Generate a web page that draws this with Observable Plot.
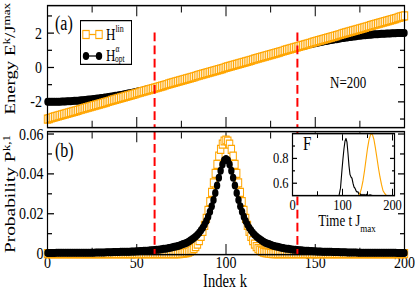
<!DOCTYPE html>
<html><head><meta charset="utf-8">
<script src="https://cdn.jsdelivr.net/npm/d3@7"></script>
<script src="https://cdn.jsdelivr.net/npm/@observablehq/plot@0.6"></script>
<style>
html,body{margin:0;padding:0;background:#fff;}
#wrap{position:relative;width:415px;height:291px;overflow:hidden;background:#fff;}
#chart{position:absolute;left:0;top:0;width:415px;height:232.8px;transform:scale(1,1.25);transform-origin:0 0;font-family:"Liberation Serif","Times New Roman",serif;color:#000;}
#chart > svg{position:absolute;left:0;overflow:visible;}
</style></head><body><div id="wrap"><div id="chart"></div></div>
<script>
// ---- data ----
const energyLin = [-3.00,-2.97,-2.94,-2.91,-2.88,-2.85,-2.82,-2.79,-2.76,-2.73,
-2.70,-2.67,-2.64,-2.61,-2.58,-2.55,-2.52,-2.49,-2.46,-2.43,
-2.40,-2.37,-2.34,-2.31,-2.28,-2.25,-2.22,-2.19,-2.16,-2.13,
-2.10,-2.07,-2.04,-2.01,-1.98,-1.95,-1.92,-1.89,-1.86,-1.83,
-1.80,-1.77,-1.74,-1.71,-1.68,-1.65,-1.62,-1.59,-1.56,-1.53,
-1.50,-1.47,-1.44,-1.41,-1.38,-1.35,-1.32,-1.29,-1.26,-1.23,
-1.20,-1.17,-1.14,-1.11,-1.08,-1.05,-1.02,-0.99,-0.96,-0.93,
-0.90,-0.87,-0.84,-0.81,-0.78,-0.75,-0.72,-0.69,-0.66,-0.63,
-0.60,-0.57,-0.54,-0.51,-0.48,-0.45,-0.42,-0.39,-0.36,-0.33,
-0.30,-0.27,-0.24,-0.21,-0.18,-0.15,-0.12,-0.09,-0.06,-0.03,
0.00,
0.03,0.06,0.09,0.12,0.15,0.18,0.21,0.24,0.27,0.30,
0.33,0.36,0.39,0.42,0.45,0.48,0.51,0.54,0.57,0.60,
0.63,0.66,0.69,0.72,0.75,0.78,0.81,0.84,0.87,0.90,
0.93,0.96,0.99,1.02,1.05,1.08,1.11,1.14,1.17,1.20,
1.23,1.26,1.29,1.32,1.35,1.38,1.41,1.44,1.47,1.50,
1.53,1.56,1.59,1.62,1.65,1.68,1.71,1.74,1.77,1.80,
1.83,1.86,1.89,1.92,1.95,1.98,2.01,2.04,2.07,2.10,
2.13,2.16,2.19,2.22,2.25,2.28,2.31,2.34,2.37,2.40,
2.43,2.46,2.49,2.52,2.55,2.58,2.61,2.64,2.67,2.70,
2.73,2.76,2.79,2.82,2.85,2.88,2.91,2.94,2.97,3.00];

const energyOpt = [-2.00,-2.00,-2.00,-2.00,-2.00,-1.99,-1.99,-1.99,-1.98,-1.98,
-1.98,-1.97,-1.96,-1.96,-1.95,-1.94,-1.94,-1.93,-1.92,-1.91,
-1.90,-1.89,-1.88,-1.87,-1.86,-1.85,-1.84,-1.82,-1.81,-1.80,
-1.78,-1.77,-1.75,-1.74,-1.72,-1.71,-1.69,-1.67,-1.65,-1.64,
-1.62,-1.60,-1.58,-1.56,-1.54,-1.52,-1.50,-1.48,-1.46,-1.44,
-1.41,-1.39,-1.37,-1.35,-1.32,-1.30,-1.27,-1.25,-1.23,-1.20,
-1.18,-1.15,-1.12,-1.10,-1.07,-1.04,-1.02,-0.99,-0.96,-0.94,
-0.91,-0.88,-0.85,-0.82,-0.79,-0.77,-0.74,-0.71,-0.68,-0.65,
-0.62,-0.59,-0.56,-0.53,-0.50,-0.47,-0.44,-0.41,-0.37,-0.34,
-0.31,-0.28,-0.25,-0.22,-0.19,-0.16,-0.13,-0.09,-0.06,-0.03,
0.00,
0.03,0.06,0.09,0.13,0.16,0.19,0.22,0.25,0.28,0.31,
0.34,0.37,0.41,0.44,0.47,0.50,0.53,0.56,0.59,0.62,
0.65,0.68,0.71,0.74,0.77,0.79,0.82,0.85,0.88,0.91,
0.94,0.96,0.99,1.02,1.04,1.07,1.10,1.12,1.15,1.18,
1.20,1.23,1.25,1.27,1.30,1.32,1.35,1.37,1.39,1.41,
1.44,1.46,1.48,1.50,1.52,1.54,1.56,1.58,1.60,1.62,
1.64,1.65,1.67,1.69,1.71,1.72,1.74,1.75,1.77,1.78,
1.80,1.81,1.82,1.84,1.85,1.86,1.87,1.88,1.89,1.90,
1.91,1.92,1.93,1.94,1.94,1.95,1.96,1.96,1.97,1.98,
1.98,1.98,1.99,1.99,1.99,2.00,2.00,2.00,2.00,2.00];

const probLin = [0,0,0,0,0,0,0,0,0,0,
0,0,0,0,0,0,0,0,0,0,
0,0,0,0,0,0,0,0,0,0,
0,0,0,0,0,0,0,0,0,0,
0,0,0,0,0,0,0,0,0,0,
0,0,0,0,0,0,0,0,0,0,
0,0,0,0,0,0,0,0,0,0,
0,0,0,0,0,0.0001,0.0002,0.0004,0.0005,0.0008,
0.0012,0.0018,0.0025,0.0035,0.0048,0.0065,0.0086,0.0112,0.0142,0.0177,
0.0217,0.0261,0.0307,0.0355,0.0403,0.0448,0.0489,0.0523,0.0549,0.0565,
0.0570,
0.0565,0.0549,0.0523,0.0489,0.0448,0.0403,0.0355,0.0307,0.0261,0.0217,
0.0177,0.0142,0.0112,0.0086,0.0065,0.0048,0.0035,0.0025,0.0018,0.0012,
0.0008,0.0005,0.0004,0.0002,0.0001,0,0,0,0,0,
0,0,0,0,0,0,0,0,0,0,
0,0,0,0,0,0,0,0,0,0,
0,0,0,0,0,0,0,0,0,0,
0,0,0,0,0,0,0,0,0,0,
0,0,0,0,0,0,0,0,0,0,
0,0,0,0,0,0,0,0,0,0,
0,0,0,0,0,0,0,0,0,0];

const probOpt = [0.0003,0.0003,0.0003,0.0003,0.0003,0.0004,0.0004,0.0004,0.0004,0.0004,
0.0004,0.0004,0.0004,0.0004,0.0004,0.0004,0.0004,0.0004,0.0004,0.0005,
0.0005,0.0005,0.0005,0.0005,0.0005,0.0005,0.0005,0.0006,0.0006,0.0006,
0.0006,0.0006,0.0006,0.0007,0.0007,0.0007,0.0007,0.0008,0.0008,0.0008,
0.0008,0.0009,0.0009,0.0009,0.0009,0.0010,0.0010,0.0011,0.0011,0.0011,
0.0012,0.0012,0.0013,0.0013,0.0014,0.0015,0.0015,0.0016,0.0017,0.0017,
0.0018,0.0019,0.0020,0.0021,0.0022,0.0024,0.0025,0.0026,0.0028,0.0030,
0.0032,0.0034,0.0036,0.0038,0.0041,0.0044,0.0048,0.0051,0.0055,0.0060,
0.0066,0.0072,0.0078,0.0086,0.0095,0.0105,0.0117,0.0130,0.0146,0.0164,
0.0185,0.0210,0.0238,0.0269,0.0304,0.0342,0.0380,0.0416,0.0447,0.0468,
0.0475,
0.0468,0.0447,0.0416,0.0380,0.0342,0.0304,0.0269,0.0238,0.0210,0.0185,
0.0164,0.0146,0.0130,0.0117,0.0105,0.0095,0.0086,0.0078,0.0072,0.0066,
0.0060,0.0055,0.0051,0.0048,0.0044,0.0041,0.0038,0.0036,0.0034,0.0032,
0.0030,0.0028,0.0026,0.0025,0.0024,0.0022,0.0021,0.0020,0.0019,0.0018,
0.0017,0.0017,0.0016,0.0015,0.0015,0.0014,0.0013,0.0013,0.0012,0.0012,
0.0011,0.0011,0.0011,0.0010,0.0010,0.0009,0.0009,0.0009,0.0009,0.0008,
0.0008,0.0008,0.0008,0.0007,0.0007,0.0007,0.0007,0.0006,0.0006,0.0006,
0.0006,0.0006,0.0006,0.0005,0.0005,0.0005,0.0005,0.0005,0.0005,0.0005,
0.0005,0.0004,0.0004,0.0004,0.0004,0.0004,0.0004,0.0004,0.0004,0.0004,
0.0004,0.0004,0.0004,0.0004,0.0004,0.0003,0.0003,0.0003,0.0003,0.0003];

// inset: fidelity F vs time t J_max
const timeOpt = [86,90,93,96,99,101,103,105,107,109,111,113,115,117,119,121,123,125,127,129,131,133,135,137,139,141,143,145,148,151,155,160,165,170];
const fidOpt  = [0.40,0.45,0.50,0.56,0.71,0.80,0.88,0.94,0.96,0.93,0.84,0.74,0.67,0.65,0.64,0.60,0.57,0.56,0.54,0.53,0.53,0.51,0.52,0.50,0.51,0.50,0.51,0.50,0.51,0.50,0.505,0.50,0.49,0.48];
const timeLin = [128,132,135,138,141,144,147,150,153,156,158,160,163,166,169,172,175,178,181,184,188,192,196];
const fidLin  = [0.46,0.49,0.52,0.56,0.62,0.70,0.79,0.88,0.95,0.99,1.00,0.99,0.95,0.88,0.80,0.72,0.65,0.59,0.54,0.52,0.50,0.49,0.48];

// dashed markers (index k)
const markK = [60, 140];

// ticks
const kMajor = [0,50,100,150,200], kMinor = [25,75,125,175];
const eMajor = [-2,0,2], eMinor = [-3,-1,1,3];
const pMajor = [0,0.02,0.04,0.06], pMinor = [0.01,0.03,0.05];
const tMajor = [0,100,200], tMinor = [50,150];
const fMajor = [0.6,0.8], fMinor = [0.7,0.9];

for (const [n,a] of Object.entries({energyLin,energyOpt,probLin,probOpt})) if (a.length !== 201) throw new Error(n+" length "+a.length);

// ---- build ----
const kIdx = d3.range(0, 201);
const rows = kIdx.map((k,i)=>({k, eLin: energyLin[i], eOpt: energyOpt[i], pLin: probLin[i], pOpt: probOpt[i]}));
const insetOpt = timeOpt.map((t,i)=>({t, F: fidOpt[i]}));
const insetLin = timeLin.map((t,i)=>({t, F: fidLin[i]}));

const font = '"Liberation Serif","Times New Roman",serif';
const base = {background:"transparent", overflow:"visible", fontFamily:font, color:"#000"};
const ORANGE = "#ffa500";

function boxTicks(xMaj, xMin, yMaj, yMin, [xa, xb, ya, yb]) {
  const m = [];
  for (const a of ["top","bottom"]) {
    m.push(Plot.axisX({anchor:a, ticks:xMaj, tickSize:-xa, fill:"none", label:null}));
    m.push(Plot.axisX({anchor:a, ticks:xMin, tickSize:-xb, fill:"none", label:null}));
  }
  for (const a of ["left","right"]) {
    m.push(Plot.axisY({anchor:a, ticks:yMaj, tickSize:-ya, fill:"none", label:null}));
    m.push(Plot.axisY({anchor:a, ticks:yMin, tickSize:-yb, fill:"none", label:null}));
  }
  return m;
}

const chart = document.getElementById("chart");

const svgA = Plot.plot({
  width:415, height:104, marginLeft:47, marginRight:11, marginTop:4, marginBottom:2.4,
  style:{...base, fontSize:"14px"},
  x:{domain:[0,200]}, y:{domain:[-3.5,3.6]},
  marks:[
    ...boxTicks(kMajor,kMinor,eMajor,eMinor,[8,5,7,5]),
    Plot.axisY({anchor:"left", ticks:eMajor, tickSize:0, tickPadding:5.5, tickFormat:String, label:null}),
    Plot.line(rows,{x:"k", y:"eOpt", stroke:"#000", strokeWidth:1}),
    Plot.dot(rows,{x:"k", y:"eOpt", r:3.2, fill:"#000", stroke:"none"}),
    Plot.line(rows,{x:"k", y:"eLin", stroke:ORANGE, strokeWidth:1}),
    Plot.dot(rows,{x:"k", y:"eLin", symbol:"square", r:3.6, fill:"#fff", stroke:ORANGE, strokeWidth:1}),
    Plot.ruleX(markK,{x:d=>d, y1:2, y2:-3.5, stroke:"#ff0000", strokeWidth:2, strokeDasharray:"7,3.5"}),
    Plot.frame({stroke:"#000", strokeWidth:1.2})
  ]
});
svgA.style.top = "0px";
chart.appendChild(svgA);

const svgB = Plot.plot({
  width:415, height:132.8, marginLeft:47, marginRight:11, marginTop:4.8, marginBottom:29.6,
  style:{...base, fontSize:"14px"},
  x:{domain:[0,200]}, y:{domain:[-0.0005,0.0612]},
  marks:[
    ...boxTicks(kMajor,kMinor,pMajor,pMinor,[8,5,7,5]),
    Plot.axisY({anchor:"left", ticks:pMajor, tickSize:0, tickPadding:4, tickFormat:String, label:null}),
    Plot.axisX({anchor:"bottom", ticks:kMajor, tickSize:0, tickPadding:1, tickFormat:String, label:null}),
    Plot.line(rows,{x:"k", y:"pLin", stroke:ORANGE, strokeWidth:1}),
    Plot.dot(rows,{x:"k", y:"pLin", symbol:"square", r:3.6, fill:"#fff", stroke:ORANGE, strokeWidth:1}),
    Plot.line(rows,{x:"k", y:"pOpt", stroke:"#000", strokeWidth:1}),
    Plot.dot(rows,{x:"k", y:"pOpt", r:3.2, fill:"#000", stroke:"none"}),
    Plot.ruleX(markK,{x:d=>d, stroke:"#ff0000", strokeWidth:2, strokeDasharray:"7,3.5"}),
    Plot.frame({stroke:"#000", strokeWidth:1.2})
  ]
});
svgB.style.top = "100px";
chart.appendChild(svgB);

const svgI = Plot.plot({
  width:145, height:85, marginLeft:30, marginRight:13, marginTop:6.4, marginBottom:29,
  style:{...base, fontSize:"12.5px"},
  x:{domain:[0,204]}, y:{domain:[0.5,1.0]},
  marks:[
    Plot.frame({fill:"#fff", stroke:"none"}),
    ...boxTicks(tMajor,tMinor,fMajor,fMinor,[5,3,5,3]),
    Plot.axisY({anchor:"left", ticks:fMajor, tickSize:0, tickPadding:4, tickFormat:String, label:null}),
    Plot.axisX({anchor:"bottom", ticks:tMajor, tickSize:0, tickPadding:2.3, tickFormat:String, label:null}),
    Plot.line(insetOpt,{x:"t", y:"F", stroke:"#000", strokeWidth:1.1, clip:true}),
    Plot.line(insetLin,{x:"t", y:"F", stroke:ORANGE, strokeWidth:1.1, clip:true}),
    Plot.frame({stroke:"#000", strokeWidth:1.2})
  ]
});
svgI.style.top = "100px";
svgI.style.left = "262px";
chart.appendChild(svgI);

// legend
const leg = document.createElement("div");
leg.style.cssText = "position:absolute;left:80px;top:16px;width:52px;height:35.6px;box-sizing:border-box;border:1px solid #000;background:#fff;";
leg.innerHTML = `<svg width="50" height="33.6" style="position:absolute;left:0;top:0;overflow:visible" font-family="Liberation Serif, Times New Roman, serif">
<line x1="2" x2="21" y1="10.6" y2="10.6" stroke="${ORANGE}"/>
<rect x="1.8" y="7.4" width="6.4" height="6.4" fill="#fff" stroke="${ORANGE}"/>
<rect x="14.8" y="7.4" width="6.4" height="6.4" fill="#fff" stroke="${ORANGE}"/>
<text x="25" y="15" font-size="13">H<tspan font-size="8" dy="-6.5">lin</tspan></text>
<line x1="2" x2="21" y1="27.8" y2="27.8" stroke="#000"/>
<circle cx="5" cy="27.8" r="3.2" fill="#000"/>
<circle cx="18" cy="27.8" r="3.2" fill="#000"/>
<text x="25" y="32" font-size="13">H<tspan font-size="7.5" dy="-7.5">α</tspan><tspan font-size="7.5" dx="-4.3" dy="8.3">opt</tspan></text>
</svg>`;
chart.appendChild(leg);

// annotations and axis titles
const ov = document.createElementNS("http://www.w3.org/2000/svg","svg");
ov.setAttribute("width","415"); ov.setAttribute("height","232.8");
ov.style.cssText = "position:absolute;left:0;top:0;overflow:visible";
ov.setAttribute("font-family","Liberation Serif, Times New Roman, serif");
ov.innerHTML = `
<text x="55" y="24" font-size="16">(a)</text>
<text x="55" y="125.6" font-size="16">(b)</text>
<text x="330" y="70.4" font-size="13">N=200</text>
<text x="303" y="120" font-size="15">F</text>
<text transform="translate(14.5,47) rotate(-90)" text-anchor="middle" font-size="15">Energy E<tspan font-size="10.5" dy="-5">k</tspan><tspan dy="5">/J</tspan><tspan font-size="10.5" dy="-5">max</tspan></text>
<text transform="translate(14.5,155.2) rotate(-90)" text-anchor="middle" font-size="15.5">Probability P<tspan font-size="10.5" dy="-5">k,1</tspan></text>
<text x="225" y="229.6" text-anchor="middle" font-size="14.5">Index k</text>
<text x="347" y="180.8" text-anchor="middle" font-size="13">Time t J<tspan font-size="9" dy="5">max</tspan></text>
`;
chart.appendChild(ov);
</script></body></html>
